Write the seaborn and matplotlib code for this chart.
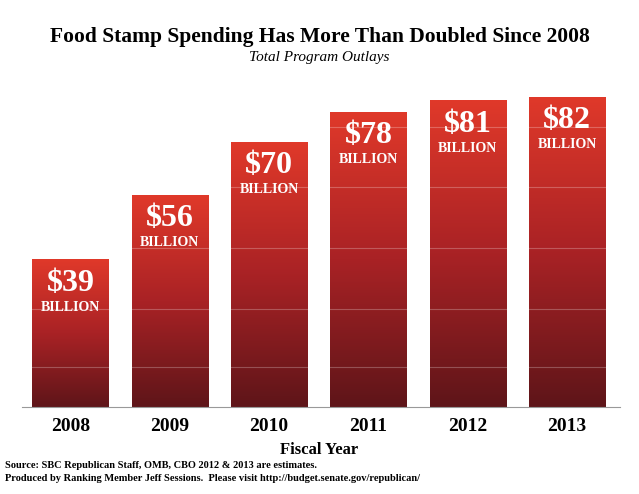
import matplotlib
matplotlib.use("Agg")
import matplotlib.pyplot as plt
import seaborn as sns
import numpy as np
import pandas as pd
from matplotlib.colors import LinearSegmentedColormap

years = ["2008", "2009", "2010", "2011", "2012", "2013"]
values = [39, 56, 70, 78, 81, 82]
labels = ["$39", "$56", "$70", "$78", "$81", "$82"]
grid_levels = [10.5, 26, 42, 58, 74]

sns.set_theme(style="white")
plt.rcParams['font.family'] = ['Liberation Serif', 'DejaVu Serif']
plt.rcParams['text.color'] = 'black'
plt.rcParams['xtick.color'] = 'black'

fig = plt.figure(figsize=(6.39, 4.94), dpi=100)
ax = fig.add_axes([0.034, 0.176, 0.936, 0.682])
df = pd.DataFrame({"year": years, "value": values})
sns.barplot(data=df, x="year", y="value", ax=ax, color="#c0282a", width=0.77, saturation=1)

cmap = LinearSegmentedColormap.from_list("g", ["#5e1519", "#a92225", "#e0392a"])
grad = np.linspace(0, 1, 256).reshape(-1, 1)
for p in ax.patches:
    x0, w, h = p.get_x(), p.get_width(), p.get_height()
    im = ax.imshow(grad, extent=[x0, x0 + w, 0, h], origin="lower", cmap=cmap,
                   aspect="auto", zorder=2)
    im.set_clip_path(p)
    p.set_facecolor("none")
    p.set_edgecolor("none")
ax.set_xlim(-0.49, 5.53)
ax.set_ylim(0, 89)
for g in grid_levels:
    ax.axhline(g, color="white", alpha=0.25, lw=0.8, zorder=3)

for i, (v, l) in enumerate(zip(values, labels)):
    ax.annotate(l, (i, v), xytext=(0, -17), textcoords="offset points", ha="center",
                va="center", color="white", fontsize=23, fontweight="bold", zorder=4)
    ax.annotate("BILLION", (i, v), xytext=(0, -34.5), textcoords="offset points", ha="center",
                va="center", color="white", fontsize=10, fontweight="bold", zorder=4)

for s in ["top", "right", "left"]:
    ax.spines[s].set_visible(False)
ax.spines["bottom"].set_color("#999999")
ax.spines["bottom"].set_linewidth(0.8)
ax.set_yticks([])
ax.set_ylabel("")
ax.set_xlabel("")
ax.tick_params(axis="x", length=0, pad=8)
for t in ax.get_xticklabels():
    t.set_fontsize(14)
    t.set_fontweight("bold")

fig.text(0.5, 1 - 37/494, "Food Stamp Spending Has More Than Doubled Since 2008",
         ha="center", va="center", fontsize=15.5, fontweight="bold")
fig.text(0.5, 1 - 58/494, "Total Program Outlays", ha="center", va="center",
         fontsize=11, style="italic")
fig.text(0.5, 1 - 450/494, "Fiscal Year", ha="center", va="center", fontsize=12, fontweight="bold")
fig.text(0.008, 1 - 465/494, "Source: SBC Republican Staff, OMB, CBO 2012 & 2013 are estimates.",
         ha="left", va="center", fontsize=7.5, fontweight="bold")
fig.text(0.008, 1 - 478/494,
         "Produced by Ranking Member Jeff Sessions.  Please visit http://budget.senate.gov/republican/",
         ha="left", va="center", fontsize=7.5, fontweight="bold")

fig.savefig("out.png", dpi=100)
